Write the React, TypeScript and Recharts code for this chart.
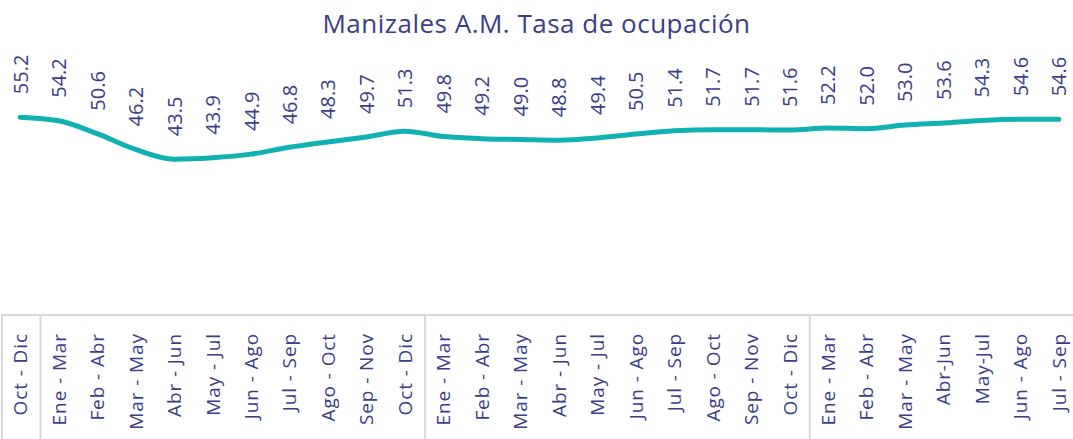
import React from "react";
import { Line, LineChart, XAxis, YAxis, LabelList } from "recharts";

const periods = [
  "Oct - Dic",
  "Ene - Mar", "Feb - Abr", "Mar - May", "Abr - Jun", "May - Jul",
  "Jun - Ago", "Jul - Sep", "Ago - Oct", "Sep - Nov", "Oct - Dic",
  "Ene - Mar", "Feb - Abr", "Mar - May", "Abr - Jun", "May - Jul",
  "Jun - Ago", "Jul - Sep", "Ago - Oct", "Sep - Nov", "Oct - Dic",
  "Ene - Mar", "Feb - Abr", "Mar - May", "Abr-Jun", "May-Jul",
  "Jun - Ago", "Jul - Sep",
];

const occupancy = [
  55.2, 54.2, 50.6, 46.2, 43.5, 43.9, 44.9, 46.8, 48.3, 49.7, 51.3,
  49.8, 49.2, 49.0, 48.8, 49.4, 50.5, 51.4, 51.7, 51.7, 51.6,
  52.2, 52.0, 53.0, 53.6, 54.3, 54.6, 54.6,
];

// indexes where a new year group starts (separator drawn on left edge)
const groupStarts = [0, 1, 11, 21];

const data = periods.map((p, i) => ({ key: i, period: p, value: occupancy[i] }));

const TEXT = "#3b3d85";
const FONT = "'Open Sans', sans-serif";
const W = 1078;
const H = 439;

function PeriodTick(props: any) {
  const { x, y, payload, index } = props;
  const half = payload?.offset || W / periods.length / 2;
  const label = periods[payload.value] ?? "";
  const ty = y + 10;
  return (
    <g>
      {groupStarts.includes(index) && (
        <line x1={x - half + 1} x2={x - half + 1} y1={y - 8} y2={H} stroke="#d9d9d9" strokeWidth={2} />
      )}
      <text
        x={x}
        y={ty}
        transform={`rotate(-90, ${x}, ${ty})`}
        textAnchor="end"
        dominantBaseline="central"
        fill={TEXT}
        fontSize={19}
        letterSpacing={0.9}
        fontFamily={FONT}
      >
        {label}
      </text>
    </g>
  );
}

function ValueLabel(props: any) {
  const { x, y, value } = props;
  const ly = y - 23;
  return (
    <text
      x={x}
      y={ly}
      transform={`rotate(-90, ${x}, ${ly})`}
      textAnchor="start"
      dominantBaseline="central"
      fill={TEXT}
      fontSize={20}
      fontFamily={FONT}
    >
      {Number(value).toFixed(1)}
    </text>
  );
}

export default function App() {
  return (
    <div style={{ position: "absolute", left: 0, top: 0, width: 1073, height: H, overflow: "hidden", background: "#fff" }}>
      <div
        style={{
          position: "absolute",
          left: 0,
          top: 5,
          width: 1073,
          textAlign: "center",
          fontFamily: FONT,
          fontSize: 26,
          letterSpacing: 0.5,
          color: TEXT,
        }}
      >
        Manizales A.M. Tasa de ocupación
      </div>
      <LineChart width={W} height={H} data={data} margin={{ top: 100, right: 0, left: 1, bottom: 0 }}>
        <XAxis
          dataKey="key"
          type="category"
          scale="band"
          interval={0}
          height={124}
          tickLine={false}
          axisLine={{ stroke: "#d9d9d9", strokeWidth: 2 }}
          tick={<PeriodTick />}
        />
        <YAxis hide domain={[0, 60]} />
        <Line
          type="monotone"
          dataKey="value"
          stroke="#10b1b3"
          strokeWidth={5}
          strokeLinecap="round"
          dot={false}
          isAnimationActive={false}
        >
          <LabelList dataKey="value" content={<ValueLabel />} />
        </Line>
      </LineChart>
    </div>
  );
}
